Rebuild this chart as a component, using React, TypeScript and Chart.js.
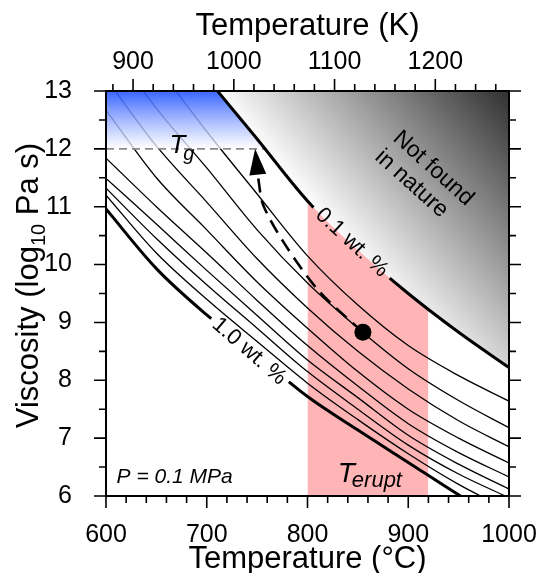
import React, { useEffect, useRef } from "react";
import { Chart, registerables } from "chart.js";

Chart.register(...registerables);

const FONT = "'Liberation Sans', Arial, Helvetica, sans-serif";
const W = 536;
const H = 573;

// Temperature grid (°C) on which the viscosity curves are tabulated
const tempsC = [600, 650, 700, 750, 800, 850, 900, 950, 1000];

// log10 viscosity (Pa s) along each isopleth of dissolved H2O (wt.%)
const visc01 = [15.7, 14.35, 13.23, 12.17, 11.1, 10.25, 9.5, 8.83, 8.22];
const visc02 = [14.6, 13.45, 12.3, 11.22, 10.15, 9.3, 8.6, 8.08, 7.64];
const visc03 = [13.9, 12.7, 11.67, 10.6, 9.68, 8.9, 8.2, 7.65, 7.18];
const visc04 = [13.22, 12.05, 11.08, 10.1, 9.25, 8.5, 7.85, 7.3, 6.85];
const visc05 = [12.67, 11.5, 10.6, 9.7, 8.9, 8.15, 7.5, 7.0, 6.57];
const visc06 = [11.84, 11.0, 10.2, 9.38, 8.6, 7.9, 7.25, 6.75, 6.33];
const visc07 = [11.49, 10.7, 9.9, 9.12, 8.35, 7.7, 7.05, 6.55, 6.12];
const visc08 = [11.32, 10.45, 9.65, 8.9, 8.15, 7.5, 6.88, 6.38, 5.97];
const visc09 = [11.2, 10.2, 9.4, 8.67, 7.95, 7.32, 6.73, 6.2, 5.75];
const visc10 = [10.96, 9.93, 9.13, 8.43, 7.72, 7.14, 6.58, 6.02, 5.5];

const thinCurves = [visc02, visc03, visc04, visc05, visc06, visc07, visc08, visc09];

// Glass transition viscosity and where it meets the driest melt curve
const tgViscosity = 12;
const tgEndTemp = 759;

// Eruption temperature window (°C)
const eruptRange = [800, 920];

// Sampled melt and its path towards the glass transition
const sampleTemp = 855;
const sampleVisc = 8.83;
const arrowPath = [
  { x: 855, y: 8.83 },
  { x: 812, y: 9.53 },
  { x: 778, y: 10.34 },
  { x: 756, y: 11.03 },
  { x: 751, y: 11.5 },
];
const arrowTip = { x: 748, y: 12.0 };

// Axis ranges and tick labels
const tMinC = 600;
const tMaxC = 1000;
const kelvinOffset = 273.15;
const kelvinTicks = [900, 1000, 1100, 1200];
const celsiusTicks = [600, 700, 800, 900, 1000];
const viscTicks = [6, 7, 8, 9, 10, 11, 12, 13];
const viscMin = 6;
const viscMax = 13;

const toPoints = (vals: number[]) => tempsC.map((t, i) => ({ x: t, y: vals[i] }));

type Gap = { x: number; y: number; angle: number; half: number; thick: number; text: string };

export default function App() {
  const ref = useRef<HTMLCanvasElement | null>(null);

  useEffect(() => {
    const canvas = ref.current;
    if (!canvas) return;

    const gaps: Record<number, Gap> = {};

    const grayFill = (c: any) => {
      const chart = c.chart;
      if (!chart.chartArea) return "#999";
      const xs = chart.scales.x;
      const ys = chart.scales.y;
      const g = chart.ctx.createLinearGradient(
        xs.getPixelForValue(822), ys.getPixelForValue(10.6),
        xs.getPixelForValue(993), ys.getPixelForValue(13.14)
      );
      g.addColorStop(0, "#ffffff");
      g.addColorStop(1, "#303030");
      return g;
    };

    const blueFill = (c: any) => {
      const chart = c.chart;
      if (!chart.chartArea) return "rgba(40,90,255,0.8)";
      const ys = chart.scales.y;
      const g = chart.ctx.createLinearGradient(0, ys.getPixelForValue(viscMax), 0, ys.getPixelForValue(tgViscosity));
      g.addColorStop(0, "rgba(35,85,255,0.9)");
      g.addColorStop(1, "rgba(255,255,255,0.75)");
      return g;
    };

    const datasets: any[] = [];
    // eruption window
    datasets.push({
      data: [{ x: eruptRange[0], y: viscMax }, { x: eruptRange[1], y: viscMax }],
      borderWidth: 0, borderColor: "transparent", pointRadius: 0,
      fill: "start", backgroundColor: "#ffb5b5", order: 20,
    });
    // intermediate water contents
    thinCurves.forEach((v) => {
      datasets.push({
        data: toPoints(v), borderColor: "#000", borderWidth: 1.3, pointRadius: 0,
        cubicInterpolationMode: "monotone", fill: false, order: 19,
      });
    });
    // glassy region above Tg
    datasets.push({
      data: [{ x: tMinC, y: tgViscosity }, { x: tgEndTemp + 10, y: tgViscosity }],
      borderWidth: 0, borderColor: "transparent", pointRadius: 0,
      fill: "end", backgroundColor: blueFill, order: 18,
    });
    // region beyond the driest melt
    datasets.push({
      data: toPoints(visc01), borderWidth: 0, borderColor: "transparent", pointRadius: 0,
      cubicInterpolationMode: "monotone", fill: "end", backgroundColor: grayFill, order: 17,
    });
    // Tg line
    datasets.push({
      data: [{ x: tMinC, y: tgViscosity }, { x: tgEndTemp, y: tgViscosity }],
      borderColor: "#8a8a8a", borderWidth: 1.6, borderDash: [8, 5], pointRadius: 0,
      fill: false, order: 16,
    });
    // 0.1 wt.% and 1.0 wt.% bounding curves
    gaps[datasets.length] = { x: 844, y: 10.38, angle: 43, half: 52, thick: 13, text: "0.1 wt. %" };
    datasets.push({
      data: toPoints(visc01), borderColor: "#000", borderWidth: 3, pointRadius: 0,
      cubicInterpolationMode: "monotone", fill: false, order: 15,
    });
    gaps[datasets.length] = { x: 742, y: 8.5, angle: 41, half: 50, thick: 13, text: "1.0 wt. %" };
    datasets.push({
      data: toPoints(visc10), borderColor: "#000", borderWidth: 3, pointRadius: 0,
      cubicInterpolationMode: "monotone", fill: false, order: 15,
    });
    // cooling path
    datasets.push({
      data: arrowPath, borderColor: "#000", borderWidth: 2.6, borderDash: [14, 8],
      pointRadius: 0, tension: 0.3, fill: false, order: 14,
    });
    // sample
    datasets.push({
      data: [{ x: sampleTemp, y: sampleVisc }], showLine: false, pointRadius: 8.5,
      pointBackgroundColor: "#000", pointBorderWidth: 0, order: 13,
    });

    const drawSub = (
      ctx: CanvasRenderingContext2D, x: number, y: number,
      main: string, sub: string, mainFont: string, subFont: string, dx: number, dy: number
    ) => {
      ctx.font = mainFont;
      ctx.fillText(main, x, y);
      const w = ctx.measureText(main).width;
      ctx.font = subFont;
      ctx.fillText(sub, x + w + dx, y + dy);
    };

    const extras = {
      id: "figureExtras",
      beforeDatasetDraw(chart: any, args: any) {
        const gap = gaps[args.index];
        if (!gap) return;
        const ctx = chart.ctx;
        const cx = chart.scales.x.getPixelForValue(gap.x);
        const cy = chart.scales.y.getPixelForValue(gap.y);
        const a = (gap.angle * Math.PI) / 180;
        const c = Math.cos(a), s = Math.sin(a);
        const pts = [
          [-gap.half, -gap.thick], [gap.half, -gap.thick], [gap.half, gap.thick], [-gap.half, gap.thick],
        ].map(([u, v]) => [cx + u * c - v * s, cy + u * s + v * c]);
        ctx.save();
        ctx.beginPath();
        ctx.rect(0, 0, chart.width, chart.height);
        ctx.moveTo(pts[0][0], pts[0][1]);
        for (let i = 1; i < 4; i++) ctx.lineTo(pts[i][0], pts[i][1]);
        ctx.closePath();
        ctx.clip("evenodd");
      },
      afterDatasetDraw(chart: any, args: any) {
        if (gaps[args.index]) chart.ctx.restore();
      },
      afterDatasetsDraw(chart: any) {
        const ctx: CanvasRenderingContext2D = chart.ctx;
        const xs = chart.scales.x;
        const ys = chart.scales.y;
        const px = (t: number) => xs.getPixelForValue(t);
        const py = (v: number) => ys.getPixelForValue(v);
        ctx.save();
        ctx.fillStyle = "#000";

        // arrow head
        const last = arrowPath[arrowPath.length - 1];
        const bx = px(last.x), by = py(last.y);
        const tx = px(arrowTip.x), ty = py(arrowTip.y);
        const len = Math.hypot(tx - bx, ty - by);
        const ux = (tx - bx) / len, uy = (ty - by) / len;
        const hw = 8.5;
        const baseX = tx - ux * 26, baseY = ty - uy * 26;
        ctx.beginPath();
        ctx.moveTo(tx, ty);
        ctx.lineTo(baseX - uy * hw, baseY + ux * hw);
        ctx.lineTo(baseX + uy * hw, baseY - ux * hw);
        ctx.closePath();
        ctx.fill();

        // curve labels, set in the gaps left in their curves
        Object.values(gaps).forEach((g) => {
          ctx.save();
          ctx.translate(px(g.x), py(g.y));
          ctx.rotate((g.angle * Math.PI) / 180);
          ctx.font = `22px ${FONT}`;
          ctx.textAlign = "center";
          ctx.textBaseline = "middle";
          ctx.fillText(g.text, 0, 0);
          ctx.restore();
        });

        // "Not found in nature"
        ctx.save();
        ctx.translate(px(914), py(11.53));
        ctx.rotate((42 * Math.PI) / 180);
        ctx.font = `23px ${FONT}`;
        ctx.textAlign = "center";
        ctx.textBaseline = "middle";
        ctx.fillText("Not found", 3, -13);
        ctx.fillText("in nature", -3, 13);
        ctx.restore();

        ctx.textAlign = "left";
        ctx.textBaseline = "alphabetic";
        // Tg
        drawSub(ctx, px(663), py(11.93), "T", "g", `italic 26px ${FONT}`, `italic 20px ${FONT}`, -2, 7);
        // T erupt
        drawSub(ctx, px(830), py(6.25), "T", "erupt", `italic 28px ${FONT}`, `italic 22px ${FONT}`, -3, 5);
        // pressure
        ctx.font = `italic 21px ${FONT}`;
        ctx.fillText("P = 0.1 MPa", px(610.5), py(6.22));
        ctx.restore();
      },
      afterDraw(chart: any) {
        const ctx: CanvasRenderingContext2D = chart.ctx;
        const { left, right, top, bottom } = chart.chartArea;
        const xs = chart.scales.x;
        const x2 = chart.scales.x2;
        const ys = chart.scales.y;
        ctx.save();
        ctx.strokeStyle = "#000";
        ctx.lineWidth = 2;
        ctx.strokeRect(left, top, right - left, bottom - top);

        ctx.lineWidth = 1.6;
        ctx.beginPath();
        for (let t = tMinC; t <= tMaxC + 0.01; t += 20) {
          const p = xs.getPixelForValue(t);
          const l = t % 100 === 0 ? 12 : 7;
          ctx.moveTo(p, bottom);
          ctx.lineTo(p, bottom + l);
        }
        for (let k = 880; k <= tMaxC + kelvinOffset; k += 20) {
          const p = x2.getPixelForValue(k);
          const l = k % 100 === 0 ? 12 : 7;
          ctx.moveTo(p, top);
          ctx.lineTo(p, top - l);
        }
        for (let v = viscMin; v <= viscMax + 0.01; v += 0.5) {
          const p = ys.getPixelForValue(v);
          const l = v % 1 === 0 ? 12 : 7;
          ctx.moveTo(left, p);
          ctx.lineTo(left - l, p);
          ctx.moveTo(right, p);
          ctx.lineTo(right + l, p);
        }
        ctx.stroke();

        // y-axis title with subscript
        ctx.translate(38, (top + bottom) / 2 - 8);
        ctx.rotate(-Math.PI / 2);
        ctx.fillStyle = "#000";
        ctx.textBaseline = "alphabetic";
        const mainFont = `31px ${FONT}`;
        const subFont = `20px ${FONT}`;
        ctx.font = mainFont;
        const a = "Viscosity (log";
        const b = " Pa s)";
        const wa = ctx.measureText(a).width;
        const wb = ctx.measureText(b).width;
        ctx.font = subFont;
        const ws = ctx.measureText("10").width;
        const total = wa + ws + wb;
        let x0 = -total / 2;
        ctx.font = mainFont;
        ctx.fillText(a, x0, 0);
        x0 += wa;
        ctx.font = subFont;
        ctx.fillText("10", x0, 7);
        x0 += ws;
        ctx.font = mainFont;
        ctx.fillText(b, x0, 0);
        ctx.restore();
      },
    };

    const tickFont = { family: FONT, size: 25 };
    const titleFont = { family: FONT, size: 31, lineHeight: 1 };
    const setTicks = (list: number[]) => (s: any) => { s.ticks = list.map((value) => ({ value })); };
    const noSidePad = (h: number) => (s: any) => {
      s.height = h;
      s.paddingLeft = 0;
      s.paddingRight = 0;
    };

    const chart = new Chart(canvas, {
      type: "line",
      data: { datasets },
      options: {
        animation: false,
        responsive: false,
        devicePixelRatio: 1,
        layout: { padding: 0 },
        plugins: { legend: { display: false }, tooltip: { enabled: false } },
        scales: {
          x: {
            type: "linear", position: "bottom", min: tMinC, max: tMaxC,
            afterBuildTicks: setTicks(celsiusTicks),
            afterFit: noSidePad(H - 496),
            grid: { display: false }, border: { display: false },
            ticks: {
              autoSkip: false, padding: 16, color: "#000",
              font: tickFont, maxRotation: 0, callback: (v: any) => String(v),
            },
            title: { display: true, text: "Temperature (°C)", color: "#000", font: titleFont, padding: { top: 0, bottom: -2 } },
          },
          x2: {
            type: "linear", position: "top", min: tMinC + kelvinOffset, max: tMaxC + kelvinOffset,
            afterBuildTicks: setTicks(kelvinTicks),
            afterFit: noSidePad(91),
            grid: { display: false }, border: { display: false },
            ticks: {
              autoSkip: false, padding: 6, color: "#000",
              font: tickFont, maxRotation: 0, callback: (v: any) => String(v),
            },
            title: { display: true, text: "Temperature (K)", color: "#000", font: titleFont, padding: { top: 11, bottom: 0 } },
          },
          y: {
            type: "linear", position: "left", min: viscMin, max: viscMax,
            afterBuildTicks: setTicks(viscTicks),
            afterFit: (s: any) => { s.width = 106; s.paddingTop = 0; s.paddingBottom = 0; },
            grid: { display: false }, border: { display: false },
            ticks: { autoSkip: false, padding: 26, color: "#000", font: tickFont, callback: (v: any) => String(v) },
          },
          y2: {
            type: "linear", position: "right", min: viscMin, max: viscMax,
            afterFit: (s: any) => { s.width = W - 509; s.paddingTop = 0; s.paddingBottom = 0; },
            grid: { display: false }, border: { display: false },
            ticks: { display: false },
          },
        },
      } as any,
      plugins: [extras],
    });
    return () => chart.destroy();
  }, []);

  return (
    <div style={{ position: "fixed", left: 0, top: 0, width: W, height: H, background: "#fff" }}>
      <canvas ref={ref} width={W} height={H} style={{ width: W, height: H, display: "block" }} />
    </div>
  );
}
